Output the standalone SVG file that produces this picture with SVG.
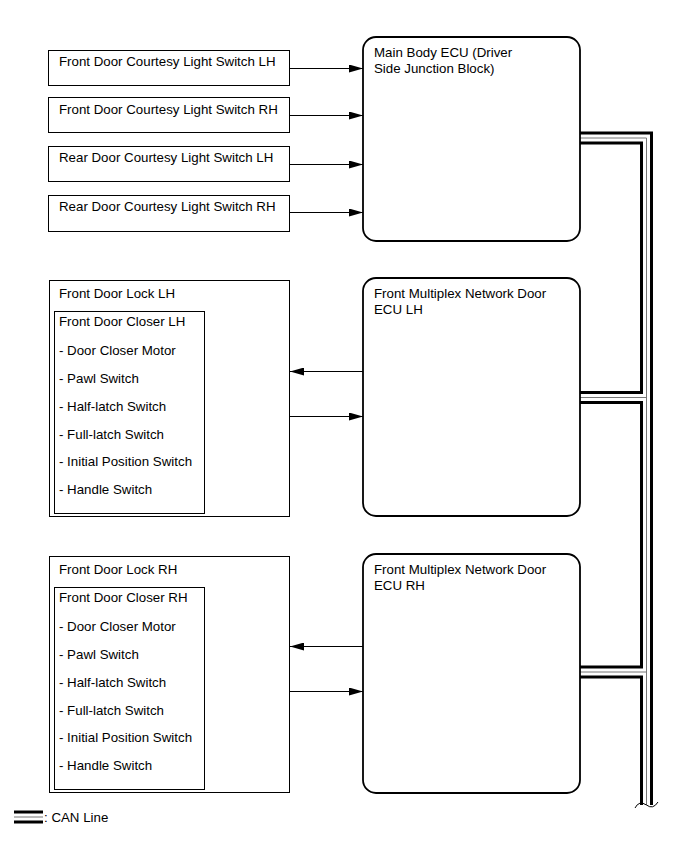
<svg xmlns="http://www.w3.org/2000/svg" width="689" height="846" viewBox="0 0 689 846">
<defs>
<marker id="ah" markerUnits="userSpaceOnUse" markerWidth="14" markerHeight="8" refX="14" refY="4" orient="auto">
<path d="M0,0 L14,4 L0,8 z" fill="#000"/>
</marker>
<style>
text{font-family:"Liberation Sans",Arial,sans-serif;font-size:13.3px;fill:#000}
.box{fill:#fff;stroke:#000;stroke-width:1}
.ecu{fill:#fff;stroke:#000;stroke-width:1.8}
.arr{stroke:#000;stroke-width:1;fill:none;marker-end:url(#ah)}
.canb{fill:none;stroke:#000;stroke-width:13}
.canw{fill:none;stroke:#fff;stroke-width:7}
.canc{fill:none;stroke:#777;stroke-width:1}
</style>
</defs>
<rect width="689" height="846" fill="#fff"/>

<g id="connectors">
<g id="can-bus">
<path class="canb" d="M580,138 H646.5 V805 M580,397.5 H646.5 M580,672 H646.5"/>
<path class="canw" d="M580,138 H646.5 V805 M580,397.5 H646.5 M580,672 H646.5"/>
<path class="canc" d="M580,138 H646.5 V805 M580,397.5 H646.5 M580,672 H646.5"/>
<path d="M635,808 Q639,800 646.5,805 Q653,810 658,802" fill="none" stroke="#000" stroke-width="1"/>
</g>
<line class="arr" x1="290" y1="68.5" x2="363" y2="68.5"/>
<line class="arr" x1="290" y1="115.5" x2="363" y2="115.5"/>
<line class="arr" x1="290" y1="164.5" x2="363" y2="164.5"/>
<line class="arr" x1="290" y1="212.5" x2="363" y2="212.5"/>
<line class="arr" x1="363" y1="371.5" x2="290" y2="371.5"/>
<line class="arr" x1="290" y1="416.5" x2="363" y2="416.5"/>
<line class="arr" x1="363" y1="646.5" x2="290" y2="646.5"/>
<line class="arr" x1="290" y1="691.5" x2="363" y2="691.5"/>
</g>

<g id="sw-fdl-lh">
<rect class="box" x="48.5" y="50.5" width="241" height="35"/>
<text x="59" y="66">Front Door Courtesy Light Switch LH</text>
</g>
<g id="sw-fdl-rh">
<rect class="box" x="48.5" y="97.5" width="241" height="35"/>
<text x="59" y="114">Front Door Courtesy Light Switch RH</text>
</g>
<g id="sw-rdl-lh">
<rect class="box" x="48.5" y="146.5" width="241" height="35"/>
<text x="59" y="162">Rear Door Courtesy Light Switch LH</text>
</g>
<g id="sw-rdl-rh">
<rect class="box" x="48.5" y="195.5" width="241" height="36"/>
<text x="59" y="211">Rear Door Courtesy Light Switch RH</text>
</g>

<g id="main-body-ecu">
<rect class="ecu" x="363" y="37" width="217" height="204" rx="13"/>
<text x="374" y="57">Main Body ECU (Driver</text>
<text x="374" y="73">Side Junction Block)</text>
</g>

<g id="ecu-lh">
<rect class="ecu" x="363" y="278" width="217" height="238" rx="13"/>
<text x="374" y="298">Front Multiplex Network Door</text>
<text x="374" y="314">ECU LH</text>
</g>

<g id="ecu-rh">
<rect class="ecu" x="363" y="554" width="217" height="239" rx="13"/>
<text x="374" y="574">Front Multiplex Network Door</text>
<text x="374" y="590">ECU RH</text>
</g>

<g id="lock-lh">
<rect class="box" x="49.5" y="280.5" width="240" height="236"/>
<text x="59" y="298">Front Door Lock LH</text>
<rect class="box" x="54.5" y="311.5" width="150" height="202"/>
<text x="59" y="326">Front Door Closer LH</text>
<text x="59" y="355">- Door Closer Motor</text>
<text x="59" y="383">- Pawl Switch</text>
<text x="59" y="411">- Half-latch Switch</text>
<text x="59" y="439">- Full-latch Switch</text>
<text x="59" y="466">- Initial Position Switch</text>
<text x="59" y="494">- Handle Switch</text>
</g>

<g id="lock-rh">
<rect class="box" x="49.5" y="556.5" width="240" height="236"/>
<text x="59" y="574">Front Door Lock RH</text>
<rect class="box" x="54.5" y="587.5" width="150" height="202"/>
<text x="59" y="602">Front Door Closer RH</text>
<text x="59" y="631">- Door Closer Motor</text>
<text x="59" y="659">- Pawl Switch</text>
<text x="59" y="687">- Half-latch Switch</text>
<text x="59" y="715">- Full-latch Switch</text>
<text x="59" y="742">- Initial Position Switch</text>
<text x="59" y="770">- Handle Switch</text>
</g>

<g id="legend">
<path class="canb" d="M14,817 H43"/>
<path class="canw" d="M14,817 H43"/>
<path class="canc" d="M14,817 H43"/>
<text x="44" y="822">: CAN Line</text>
</g>
</svg>
